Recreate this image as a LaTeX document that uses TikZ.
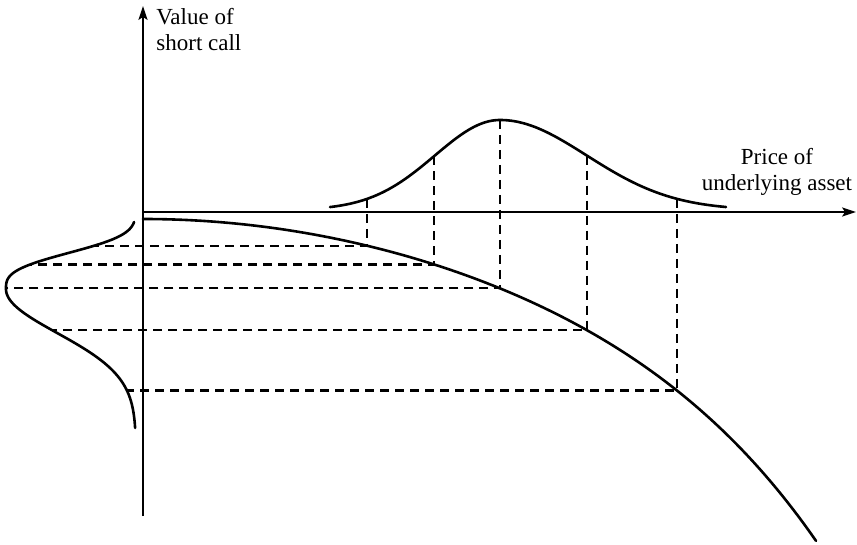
\documentclass[tikz,border=0pt]{standalone}
\usepackage{fontspec}
\setmainfont{Liberation Serif}
\usetikzlibrary{arrows.meta}

\begin{document}
\begin{tikzpicture}[x=1cm,y=1cm,
  axis/.style={line width=0.65pt,-{Stealth[length=7pt,width=4.6pt,inset=1.5pt]}},
  curve/.style={line width=1.3pt,line cap=round},
  guide/.style={line width=1.1pt,dash pattern=on 4.5pt off 3pt},
  lbl/.style={inner sep=0pt,font=\fontsize{11.5}{13}\selectfont}]
\begin{scope}[x=0.5pt,y=-0.5pt]
\useasboundingbox (0,0) rectangle (857,545);
\coordinate (O) at (143,212);
\coordinate (ybot) at (143,516);
\coordinate (ytop) at (143,6);
\coordinate (xend) at (856,212);
\draw[axis] (ybot) -- (ytop);
\draw[axis] (O) -- (xend);
\node[lbl,anchor=north west,align=left] (vlbl) at (156,8) {Value of\\short call};
\node[lbl,anchor=south,align=center] (plbl) at (777,196) {Price of\\underlying asset};
% price distribution
\draw[curve] plot[domain=330:500,samples=60] (\x,{210-90*exp(-0.5*((\x-500)/65)^2)})
  -- plot[domain=500:726,samples=60] (\x,{210-90*exp(-0.5*((\x-500)/86.6)^2)});
% value of short call
\draw[curve] plot[domain=143:816,samples=120] (\x,{219+5.3*((\x-143)/100)^2+81.8*((\x-143)/673)^6});
% value distribution
\draw[curve] plot[domain=222:289,samples=60] ({136-130*exp(-((289-\x)/41.5)^3)},\x)
  -- plot[domain=289:428,samples=80] ({136-130*exp(-0.5*((\x-289)/44)^2)},\x);
\coordinate (p1) at (367,198.90);
\coordinate (p2) at (434,156.25);
\coordinate (p3) at (500,120.00);
\coordinate (p4) at (587,155.66);
\coordinate (p5) at (677,198.85);
\coordinate (c1) at (367,245.70);
\coordinate (c2) at (434,264.42);
\coordinate (c3) at (500,288.37);
\coordinate (c4) at (587,330.23);
\coordinate (c5) at (677,390.55);
\coordinate (q1) at (94.25,245.70);
\coordinate (q2) at (30.39,264.42);
\coordinate (q3) at (6.00,288.37);
\coordinate (q4) at (52.19,330.23);
\coordinate (q5) at (126.94,390.55);
\draw[guide] (p1) -- (c1) -- (q1);
\draw[guide] (p2) -- (c2) -- (q2);
\draw[guide] (p3) -- (c3) -- (q3);
\draw[guide] (p4) -- (c4) -- (q4);
\draw[guide] (p5) -- (c5) -- (q5);
\end{scope}
\end{tikzpicture}
\end{document}
